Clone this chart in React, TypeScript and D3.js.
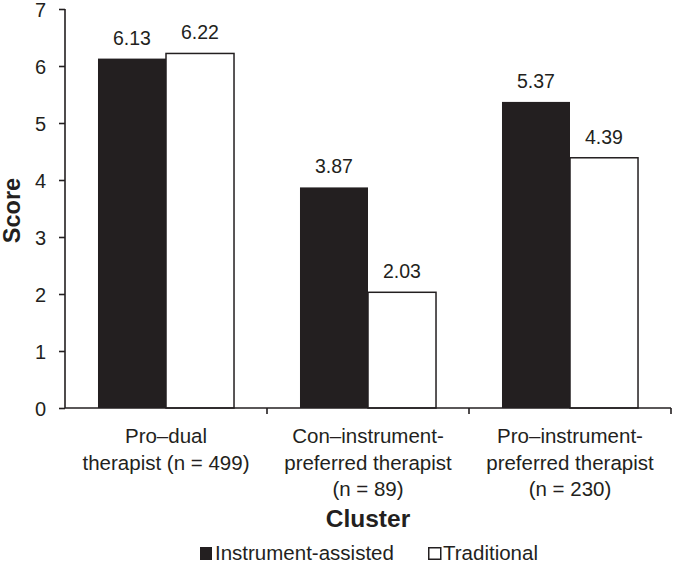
import * as d3 from "d3";
import React, { useEffect, useRef } from "react";

const clusters = ["Pro–dual therapist (n = 499)", "Con–instrument-preferred therapist (n = 89)", "Pro–instrument-preferred therapist (n = 230)"];
const clusterLines = [
    ["Pro–dual", "therapist (n = 499)"],
    ["Con–instrument-", "preferred therapist", "(n = 89)"],
    ["Pro–instrument-", "preferred therapist", "(n = 230)"],
];
const seriesNames = ["Instrument-assisted", "Traditional"];
const instrumentAssisted = [6.13, 3.87, 5.37];
const traditional = [6.22, 2.03, 4.39];
const yTicks = [0, 1, 2, 3, 4, 5, 6, 7];

const INK = "#231f20";
const FONT = "'Liberation Sans', Arial, sans-serif";

function Chart() {
    const ref = useRef<SVGSVGElement>(null);

    useEffect(() => {
        const svg = d3.select(ref.current);
        svg.selectAll("*").remove();

        const left = 65, right = 671, top = 9, bottom = 408;

        const x = d3.scaleBand().domain(clusters).range([left, right]).padding(0);
        const inner = d3.scaleBand().domain(seriesNames).range([0, x.bandwidth()]).paddingInner(0).paddingOuter(0.485);
        const y = d3.scaleLinear().domain([0, 7]).range([bottom, top]);

        const rows = clusters.map((c, i) => ({ c, vals: [instrumentAssisted[i], traditional[i]] }));

        // bars + value labels
        const g = svg.append("g");
        rows.forEach((r) => {
            r.vals.forEach((v, j) => {
                const bx = x(r.c)! + inner(seriesNames[j])!;
                if (j == 0) {
                    g.append("rect")
                        .attr("x", bx)
                        .attr("y", y(v))
                        .attr("width", inner.bandwidth())
                        .attr("height", y(0) - y(v))
                        .attr("fill", INK);
                } else {
                    g.append("rect")
                        .attr("x", bx)
                        .attr("y", y(v))
                        .attr("width", inner.bandwidth())
                        .attr("height", y(0) - y(v))
                        .attr("fill", "#fff")
                        .attr("stroke", INK)
                        .attr("stroke-width", 1.5);
                }
                g.append("text")
                    .attr("x", bx + inner.bandwidth() / 2)
                    .attr("y", y(v) - 14)
                    .attr("text-anchor", "middle")
                    .attr("font-size", 19.5)
                    .attr("fill", INK)
                    .text(v.toFixed(2));
            });
        });

        // y axis
        const ya = svg.append("g").attr("transform", `translate(${left},0)`)
            .call(d3.axisLeft(y).tickValues(yTicks).tickSize(6).tickPadding(13).tickFormat(d3.format("d")));
        ya.select(".domain").attr("stroke", INK).attr("stroke-width", 1.6).attr("d", `M0,${top}V${bottom}`);
        ya.selectAll(".tick line").attr("stroke", INK).attr("stroke-width", 1.6);
        ya.selectAll(".tick text").attr("font-size", 20).attr("font-family", FONT).attr("fill", INK).attr("dy", "0.36em");

        // x axis
        const boundaries = clusters.map((c) => x(c)! + x.bandwidth());
        svg.append("line").attr("x1", left).attr("x2", right).attr("y1", bottom).attr("y2", bottom)
            .attr("stroke", INK).attr("stroke-width", 1.6);
        svg.selectAll(".xt").data(boundaries).enter().append("line")
            .attr("x1", (d) => d).attr("x2", (d) => d).attr("y1", bottom).attr("y2", bottom + 6)
            .attr("stroke", INK).attr("stroke-width", 1.6);

        clusterLines.forEach((lines, i) => {
            const cx = x(clusters[i])! + x.bandwidth() / 2;
            lines.forEach((ln, k) => {
                svg.append("text")
                    .attr("x", cx)
                    .attr("y", 443 + k * 26.5)
                    .attr("text-anchor", "middle")
                    .attr("font-size", 20.5)
                    .attr("fill", INK)
                    .text(ln);
            });
        });

        // axis titles
        svg.append("text")
            .attr("transform", `translate(20,${(top + bottom) / 2 + 2}) rotate(-90)`)
            .attr("text-anchor", "middle")
            .attr("font-size", 23.5)
            .attr("font-weight", "bold")
            .attr("fill", INK)
            .text("Score");
        svg.append("text")
            .attr("x", (left + right) / 2)
            .attr("y", 527)
            .attr("text-anchor", "middle")
            .attr("font-size", 24.5)
            .attr("font-weight", "bold")
            .attr("fill", INK)
            .text("Cluster");

        // legend
        const lg = svg.append("g").attr("transform", "translate(200,560)");
        const offs = [0, 228];
        seriesNames.forEach((s, j) => {
            if (j == 0) {
                lg.append("rect").attr("x", offs[j]).attr("y", -13).attr("width", 12).attr("height", 13).attr("fill", INK);
            } else {
                lg.append("rect").attr("x", offs[j] + 0.75).attr("y", -12.25).attr("width", 12).attr("height", 11.5)
                    .attr("fill", "#fff").attr("stroke", INK).attr("stroke-width", 1.5);
            }
            lg.append("text").attr("x", offs[j] + 15).attr("y", 0).attr("font-size", 20.5).attr("fill", INK).text(s);
        });
    }, []);

    return <svg ref={ref} width={674} height={565} style={{ display: "block", fontFamily: FONT, background: "#fff" }} />;
}

export default function App() {
    return (
        <div style={{ position: "fixed", left: 0, top: 0, width: 674, height: 565, overflow: "hidden" }}>
            <Chart />
        </div>
    );
}
